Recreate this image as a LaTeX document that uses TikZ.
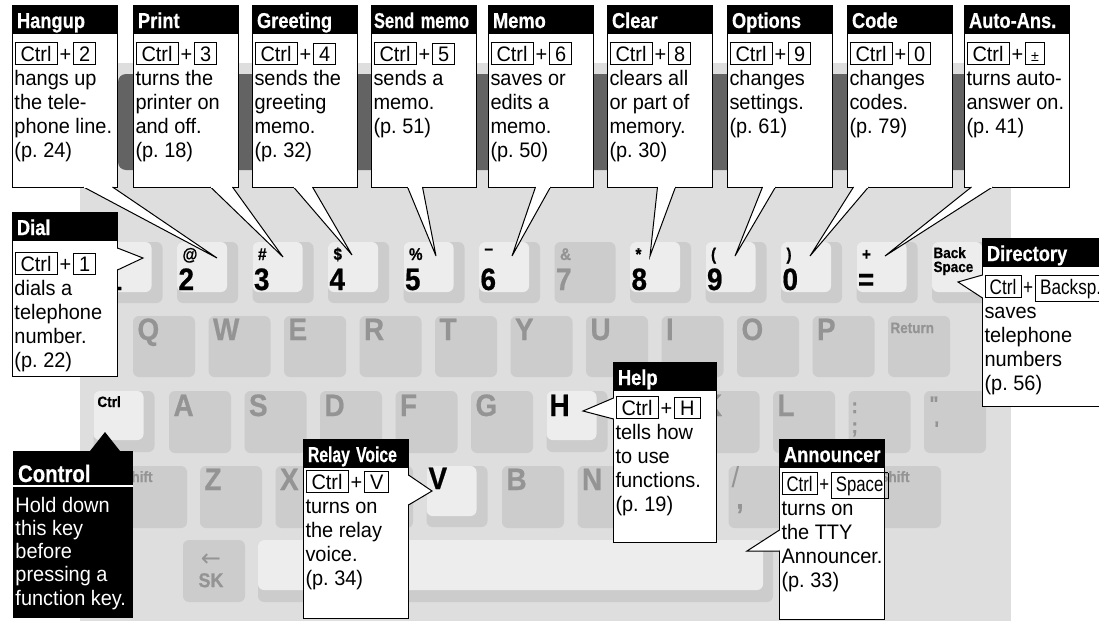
\documentclass[tikz,border=0pt]{standalone}
\usepackage{fontspec}
\setmainfont{Liberation Sans}[FakeStretch=0.95]
\newfontfamily\headfont{Liberation Sans}[FakeStretch=0.85, BoldFeatures={FakeBold=0.6}]
\newfontfamily\keyfont{Liberation Sans}[FakeStretch=0.9, BoldFeatures={FakeBold=0.6}]
\newfontfamily\arrowfont{DejaVu Sans}
\usetikzlibrary{positioning,calc}

\definecolor{kbdgray}{gray}{0.87}
\definecolor{bodygray}{gray}{0.80}
\definecolor{facegray}{gray}{0.93}
\definecolor{bandgray}{gray}{0.39}
\definecolor{inkgray}{gray}{0.58}

\setlength{\fboxsep}{3pt}
\setlength{\fboxrule}{1pt}
\newcommand{\kbox}[1]{\fbox{\kern2pt#1\kern2pt}}
\newcommand{\keys}[2][26pt]{\rule{0pt}{#1}\kbox{Ctrl}\kern2pt+\kern2pt\kbox{#2}}
\newcommand{\notetext}[3][101pt]{\parbox[t][#2][t]{#1}{\raggedright#3}}
\newcommand{\pmkey}{\vphantom{2}{\fontsize{15}{15}\selectfont ±}}
\newcommand{\pointto}[4]{%
  \filldraw[ptr] ($(#1)+#2$) -- (#4) -- ($(#1)+#3$);
  \draw[gap] ($(#1)+#2$) -- ($(#1)+#3$);}

\tikzset{
	keybody/.style={fill=bodygray, rounded corners=6pt},
	keyface/.style={fill=facegray, rounded corners=6pt},
	keylab/.style={anchor=base west, inner sep=0pt, font=\keyfont\bfseries\fontsize{31}{31}\selectfont},
	keysym/.style={anchor=base west, inner sep=0pt, font=\keyfont\bfseries\fontsize{17}{17}\selectfont},
	keysmall/.style={anchor=base west, inner sep=0pt, font=\keyfont\bfseries\fontsize{15}{15}\selectfont},
	dim/.style={text=inkgray},
	head/.style={fill=black, text=white, anchor=north west, inner xsep=5pt, inner ysep=0pt, outer sep=0pt,
		text width=96pt, align=left, text height=23pt, text depth=5pt, font=\headfont\bfseries\fontsize{21.5}{21.5}\selectfont},
	note/.style={draw=black, line width=1pt, fill=white, inner sep=2pt, outer sep=0pt, font=\fontsize{21}{24}\selectfont},
	ptr/.style={draw=black, fill=white, line width=1pt, line join=miter},
	gap/.style={white, line width=1.6pt, shorten <=0.6pt, shorten >=0.6pt}
}

\begin{document}
\begin{tikzpicture}[x=1pt,y=-1pt,line width=1pt]
	\useasboundingbox (0,0) rectangle (1099,621);
	%%%keyboard
	\fill[kbdgray] (80,63) rectangle (1011,621);
	\fill[bandgray, rounded corners=8pt] (118,74) rectangle (1004,170);
	
	%%%number row
	\foreach \i/\s/\d in {1/@/2,2/\#/3,3/\$/4,4/\%/5,5/{\raisebox{6pt}{\textendash}}/6,7/*/8,8/{(}/9,9/{)}/0,10/+/=}{
		\fill[keybody] (101.5+75.5*\i,242) rectangle ++(61,61);
		\fill[keyface] (101.5+75.5*\i,242) rectangle ++(50,50);
		\node[keysym] (s\i) at (106.5+75.5*\i,260) {\s};
		\node[keylab] (n\i) at (102.5+75.5*\i,290) {\d};
	}
	\fill[keybody] (101.5,242) rectangle ++(61,61);
	\fill[keyface] (101.5,242) rectangle ++(50,50);
	\node[keylab] (n0) at (106,290) {1};
	\fill[keybody] (554.5,242) rectangle ++(61,61);
	\node[keysym, dim] (s6) at (559.5,260) {\&};
	\node[keylab, dim] (n6) at (555.5,290) {7};
	\fill[keybody] (932,242) rectangle ++(61,61);
	\fill[keyface] (932,242) rectangle ++(50,50);
	\node[keysmall] (back) at (933,258) {Back};
	\node[keysmall] (space) at (933,272) {Space};
	
	%%%QWERTY row
	\foreach \i/\l in {0/Q,1/W,2/E,3/R,4/T,5/Y,6/U,7/I,8/O,9/P}{
		\fill[keybody] (133+75.5*\i,316) rectangle ++(62,61);
		\node[keylab, dim] (q\i) at (137+75.5*\i,340) {\l};
	}
	\fill[keybody] (888,316) rectangle ++(62,61);
	\node[keysmall, dim] (return) at (890,333) {Return};
	
	%%%ASDF row
	\foreach \i/\l in {1/A,2/S,3/D,4/F,5/G,7/,8/K,9/L}{
		\fill[keybody] (93.5+75.5*\i,391) rectangle ++(62,62);
		\node[keylab, dim] (a\i) at (97.5+75.5*\i,416) {\l};
	}
	\fill[keybody] (93.5,391) rectangle ++(61,61);
	\fill[keyface] (93.5,391) rectangle ++(50,49);
	\node[keysmall] (ctrl) at (97,407) {Ctrl};
	\fill[keybody] (546.5,391) rectangle ++(61,61);
	\fill[keyface] (546.5,391) rectangle ++(50,49);
	\node[keylab] (a6) at (549,416) {H};
	\fill[keybody] (848.5,391) rectangle ++(62,62);
	\node[keysym, dim, font=\keyfont\bfseries\fontsize{21}{21}\selectfont] (colon) at (851,413) {:};
	\node[keysym, dim, font=\keyfont\bfseries\fontsize{21}{21}\selectfont] (semi) at (851,433) {;};
	\fill[keybody] (924,391) rectangle ++(62,62);
	\node[keysym, dim, font=\keyfont\bfseries\fontsize{21}{21}\selectfont] (quote) at (929,411) {\textquotedbl};
	\node[keysym, dim, font=\keyfont\bfseries\fontsize{21}{21}\selectfont] (apos) at (934,436) {\textquotesingle};
	
	%%%ZXCV row
	\fill[keybody] (95,466) rectangle (187,528);
	\node[keysmall, dim] (lshift) at (122,482) {Shift};
	\foreach \i/\l in {0/Z,1/X,2/,4/B,5/N,6/}{
		\fill[keybody] (200+75.5*\i,466) rectangle ++(62,62);
		\node[keylab, dim] (z\i) at (204+75.5*\i,490) {\l};
	}
	\fill[keybody] (426.5,466) rectangle ++(61,61);
	\fill[keyface] (426.5,466) rectangle ++(50,50);
	\node[keylab] (z3) at (428,489) {V};
	\fill[keybody] (728.5,466) rectangle ++(62,62);
	\node[dim, anchor=north west, inner sep=0pt, align=left, font=\fontsize{29}{29}\selectfont] (slash) at (731,466) {/\\[-8pt]{\keyfont\bfseries\,,}};
	\fill[keybody] (804,466) rectangle (941,528);
	\node[keysmall, dim] (rshift) at (879,482) {Shift};
	
	%%%space row
	\fill[keybody] (183,540) rectangle ++(62,62);
	\node[dim, anchor=north, inner sep=0pt, align=center, font=\keyfont\bfseries\fontsize{20}{20}\selectfont] (sk) at (211,553) {{\arrowfont\mdseries\fontsize{24}{24}\selectfont ←}\\[1pt]SK};
	\fill[keybody] (258,540) rectangle (773,602);
	\fill[keyface] (258,540) rectangle (763,590);
	
	%%%top callouts
	\node[head] (hangupH) at (12,5) {Hangup};
	\node[note, below=0pt of hangupH] (hangup) {\notetext{150pt}{\keys{2}\\hangs up\\the tele-\\phone line.\\(p.~24)}};
	\node[head] (printH) at (133,5) {Print};
	\node[note, below=0pt of printH] (print) {\notetext{150pt}{\keys{3}\\turns the\\printer on\\and off.\\(p.~18)}};
	\node[head] (greetingH) at (252,5) {Greeting};
	\node[note, below=0pt of greetingH] (greeting) {\notetext{150pt}{\keys{4}\\sends the\\greeting\\memo.\\(p.~32)}};
	\node[head, inner xsep=3pt, text width=100pt] (sendmemoH) at (371,5) {\scalebox{0.9}[1]{Send memo}};
	\node[note, below=0pt of sendmemoH] (sendmemo) {\notetext{150pt}{\keys{5}\\sends a\\memo.\\(p.~51)}};
	\node[head] (memoH) at (488,5) {Memo};
	\node[note, below=0pt of memoH] (memo) {\notetext{150pt}{\keys{6}\\saves or\\edits a\\memo.\\(p.~50)}};
	\node[head] (clearH) at (607,5) {Clear};
	\node[note, below=0pt of clearH] (clear) {\notetext{150pt}{\keys{8}\\clears all\\or part of\\memory.\\(p.~30)}};
	\node[head] (optionsH) at (727,5) {Options};
	\node[note, below=0pt of optionsH] (options) {\notetext{150pt}{\keys{9}\\changes\\settings.\\(p.~61)}};
	\node[head] (codeH) at (847,5) {Code};
	\node[note, below=0pt of codeH] (code) {\notetext{150pt}{\keys{0}\\changes\\codes.\\(p.~79)}};
	\node[head] (autoansH) at (964,5) {Auto-Ans.};
	\node[note, below=0pt of autoansH] (autoans) {\notetext{150pt}{\keys{\pmkey}\\turns auto-\\answer on.\\(p.~41)}};
	
	\coordinate (hangup tip) at (217,258);
	\coordinate (print tip) at (283,257);
	\coordinate (greeting tip) at (352,255);
	\coordinate (sendmemo tip) at (436,256);
	\coordinate (memo tip) at (512,256);
	\coordinate (clear tip) at (650,256);
	\coordinate (options tip) at (735,256);
	\coordinate (code tip) at (810,256);
	\coordinate (autoans tip) at (885,256);
	\pointto{hangup.south west}{(71,0)}{(100,0)}{hangup tip}
	\pointto{print.south west}{(77,0)}{(99,0)}{print tip}
	\pointto{greeting.south west}{(41,0)}{(60,0)}{greeting tip}
	\pointto{sendmemo.south west}{(36,0)}{(51,0)}{sendmemo tip}
	\pointto{memo.south west}{(47,0)}{(62,0)}{memo tip}
	\pointto{clear.south west}{(50,0)}{(68,0)}{clear tip}
	\pointto{options.south west}{(35,0)}{(48,0)}{options tip}
	\pointto{code.south west}{(6,0)}{(21,0)}{code tip}
	\pointto{autoans.south west}{(7,0)}{(28,0)}{autoans tip}
	
	%%%side callouts
	\node[head] (dialH) at (12,212) {Dial};
	\node[note, below=0pt of dialH] (dial) {\notetext{132pt}{\keys[29pt]{1}\\dials a\\telephone\\number.\\(p.~22)}};
	\coordinate (dial tip) at (143,258);
	\pointto{dial.north east}{(0,8)}{(0,30)}{dial tip}
	
	\node[head, text width=112pt] (directoryH) at (982,238) {Directory};
	\node[note, below=0pt of directoryH] (directory) {\notetext[117pt]{136pt}{\scalebox{0.86}[1]{\keys{Backsp.}}\\saves\\telephone\\numbers\\(p.~56)}};
	\coordinate (directory tip) at (958,282);
	\pointto{directory.north west}{(0,9)}{(0,32)}{directory tip}
	
	\node[head, text width=94pt] (helpH) at (613,362) {Help};
	\node[note, below=0pt of helpH] (help) {\notetext[99pt]{148pt}{\keys[23pt]{H}\\tells how\\to use\\functions.\\(p.~19)}};
	\coordinate (help tip) at (583,411);
	\pointto{help.north west}{(0,8)}{(0,29)}{help tip}
	
	\node[head] (relayH) at (303,439) {\scalebox{0.86}[1]{Relay Voice}};
	\node[note, below=0pt of relayH] (relay) {\notetext{147pt}{\keys[20pt]{V}\\turns on\\the relay\\voice.\\(p.~34)}};
	\coordinate (relay tip) at (432,491);
	\pointto{relay.north east}{(0,8)}{(0,38)}{relay tip}
	
	\node[head] (announcerH) at (779,439) {Announcer};
	\node[note, below=0pt of announcerH] (announcer) {\notetext{148pt}{\scalebox{0.84}[1]{\keys[22pt]{Space}}\\turns on\\the TTY\\Announcer.\\(p.~33)}};
	\coordinate (announcer tip) at (747,551);
	\pointto{announcer.north west}{(0,63)}{(0,84)}{announcer tip}
	
	%%%control
	\node[head, text width=110pt, text height=31pt, text depth=4pt, font=\headfont\bfseries\fontsize{24}{24}\selectfont] (controlH) at (13,451) {Control};
	\node[note, below=0pt of controlH, fill=black, text=white, font=\fontsize{21}{23.3}\selectfont] (control) {\notetext[115pt]{127pt}{\rule{0pt}{24pt}Hold down\\this key\\before\\pressing a\\function key.}};
	\draw[white, line width=2pt] (controlH.south west) -- (controlH.south east);
	\coordinate (control tip) at (105,432);
	\fill ($(controlH.north west)+(77,0)$) -- (control tip) -- ($(controlH.north west)+(107,0)$) -- cycle;
\end{tikzpicture}
\end{document}
